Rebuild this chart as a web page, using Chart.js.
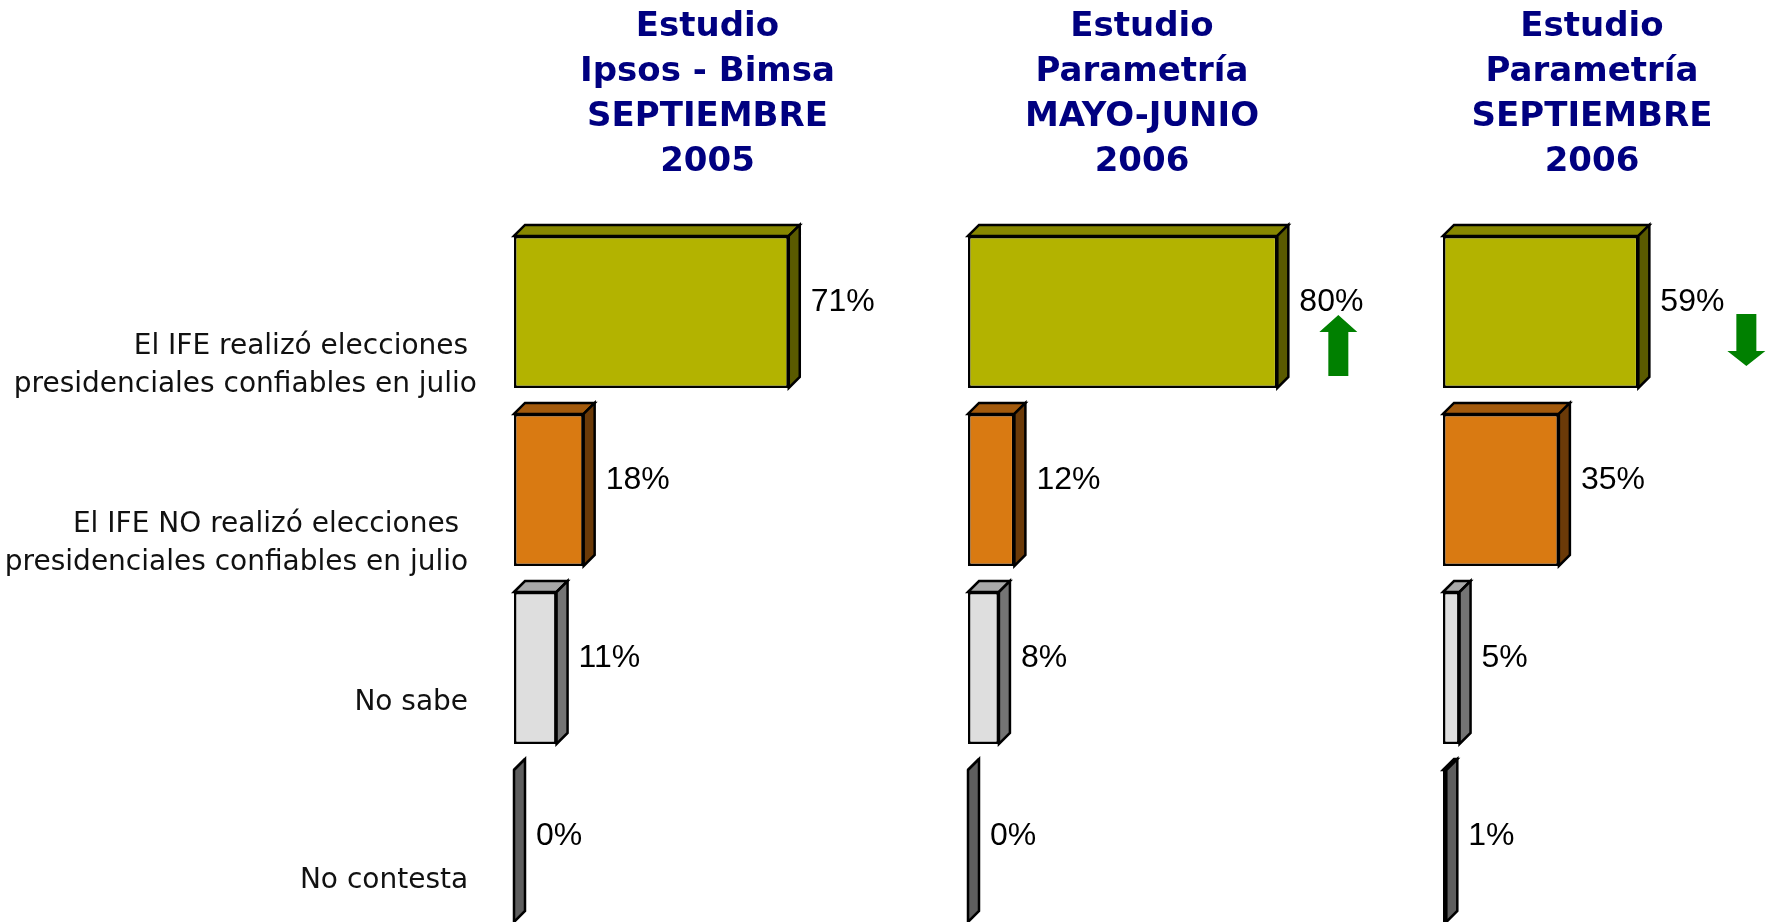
<!DOCTYPE html>
<html>
<head>
<meta charset="utf-8">
<script src="https://cdn.jsdelivr.net/npm/chart.js@4.4.0/dist/chart.umd.min.js"></script>
<style>
  html, body { margin: 0; padding: 0; background: #fff; overflow: hidden; width: 1769px; height: 922px; }
  canvas { position: absolute; left: 0; top: 0; }
</style>
</head>
<body>
<canvas id="panel0" width="1769" height="935"></canvas>
<canvas id="panel1" width="1769" height="935"></canvas>
<canvas id="panel2" width="1769" height="935"></canvas>
<script>
// categorias (espacios finales = sangria del texto original)
var categories = [
    ['El IFE realizó elecciones ', 'presidenciales confiables en julio'],
    ['El IFE NO realizó elecciones  ', 'presidenciales confiables en julio '],
    ['No sabe ', ''],
    ['No contesta ', '']
];

var studyTitles = [
    ['Estudio', 'Ipsos - Bimsa', 'SEPTIEMBRE', '2005'],
    ['Estudio', 'Parametría', 'MAYO-JUNIO', '2006'],
    ['Estudio', 'Parametría', 'SEPTIEMBRE', '2006']
];

var ipsosSep2005 = [71, 18, 11, 0];
var parametriaMayJun2006 = [80, 12, 8, 0];
var parametriaSep2006 = [59, 35, 5, 1];

var trend = [null, 'up', 'down'];   // flecha junto a la primera barra
var xMax = [100, 90, 90];

var series = [ipsosSep2005, parametriaMayJun2006, parametriaSep2006];

// layout de cada panel
var areaLeft = [514, 968, 1443];
var areaWidth = [387, 348, 298];
var arrowDx = [0, 61, 108];

var frontColors = ['#B3B300', '#D97A12', '#DEDEDE', '#606060'];
var topColors   = ['#878700', '#A35A0C', '#A8A8A8', '#4C4C4C'];
var sideColors  = ['#5A5A00', '#6B3A08', '#747474', '#5E5E5E'];
var DEPTH = 11;

// caras 3D, etiquetas de valor y flechas
var bar3d = {
    id: 'bar3d',
    afterDatasetsDraw: function (chart) {
        var ctx = chart.ctx;
        var meta = chart.getDatasetMeta(0);
        var values = chart.data.datasets[0].data;
        var panel = chart.options.plugins.bar3d.panel;
        ctx.save();
        ctx.lineWidth = 2.5;
        ctx.lineJoin = 'miter';
        ctx.strokeStyle = '#000';
        meta.data.forEach(function (el, i) {
            var p = el.getProps(['x', 'y', 'base', 'height'], true);
            var top = p.y - p.height / 2, bottom = p.y + p.height / 2;
            var l = p.base, r = p.x, d = DEPTH;
            // cara superior
            ctx.beginPath();
            ctx.moveTo(l, top);
            ctx.lineTo(l + d, top - d);
            ctx.lineTo(r + d, top - d);
            ctx.lineTo(r, top);
            ctx.closePath();
            ctx.fillStyle = topColors[i];
            ctx.fill();
            ctx.stroke();
            // cara lateral
            ctx.beginPath();
            ctx.moveTo(r, top);
            ctx.lineTo(r + d, top - d);
            ctx.lineTo(r + d, bottom - d);
            ctx.lineTo(r, bottom);
            ctx.closePath();
            ctx.fillStyle = sideColors[i];
            ctx.fill();
            ctx.stroke();
            // etiqueta
            ctx.fillStyle = '#000';
            ctx.font = '32px "Liberation Sans", Arial, sans-serif';
            ctx.textAlign = 'left';
            ctx.textBaseline = 'middle';
            ctx.fillText(values[i] + '%', r + d + 11, p.y - 10);
        });
        // flecha de tendencia
        var t = trend[panel];
        if (t) {
            var p0 = meta.data[0].getProps(['x', 'y'], true);
            var cx = p0.x + arrowDx[panel];
            ctx.fillStyle = '#008000';
            ctx.beginPath();
            if (t === 'up') {
                var y0 = p0.y + 3, y1 = p0.y + 64;
                ctx.moveTo(cx, y0);
                ctx.lineTo(cx + 19, y0 + 17);
                ctx.lineTo(cx + 10, y0 + 17);
                ctx.lineTo(cx + 10, y1);
                ctx.lineTo(cx - 10, y1);
                ctx.lineTo(cx - 10, y0 + 17);
                ctx.lineTo(cx - 19, y0 + 17);
            } else {
                var y2 = p0.y + 2, y3 = p0.y + 54;
                ctx.moveTo(cx - 10, y2);
                ctx.lineTo(cx + 10, y2);
                ctx.lineTo(cx + 10, y3 - 15);
                ctx.lineTo(cx + 19, y3 - 15);
                ctx.lineTo(cx, y3);
                ctx.lineTo(cx - 19, y3 - 15);
                ctx.lineTo(cx - 10, y3 - 15);
            }
            ctx.closePath();
            ctx.fill();
        }
        ctx.restore();
    }
};

series.forEach(function (values, k) {
    var ctx = document.getElementById('panel' + k).getContext('2d');
    new Chart(ctx, {
        type: 'bar',
        data: {
            labels: categories,
            datasets: [{
                data: values,
                backgroundColor: frontColors,
                borderColor: '#000',
                borderWidth: 2.5,
                borderSkipped: false,
                categoryPercentage: 1,
                barPercentage: 0.854
            }]
        },
        options: {
            indexAxis: 'y',
            responsive: false,
            animation: false,
            devicePixelRatio: 1,
            layout: {
                padding: {
                    left: k === 0 ? 0 : areaLeft[k],
                    right: 1769 - areaLeft[k] - areaWidth[k],
                    top: 0,
                    bottom: 0
                }
            },
            scales: {
                x: { display: false, min: 0, max: xMax[k] },
                y: {
                    display: k === 0,
                    grid: { display: false, drawTicks: false },
                    border: { display: false },
                    ticks: {
                        autoSkip: false,
                        padding: 37,
                        labelOffset: 54,
                        color: '#111',
                        font: { family: '"DejaVu Sans", Verdana, sans-serif', size: 28, lineHeight: 1.35 }
                    },
                    afterFit: function (scale) {
                        if (k === 0) {
                            scale.width = areaLeft[0];
                            scale.paddingTop = 0;
                            scale.paddingBottom = 0;
                        }
                    }
                }
            },
            plugins: {
                legend: { display: false },
                tooltip: { enabled: false },
                title: {
                    display: true,
                    fullSize: false,
                    text: studyTitles[k],
                    color: '#000080',
                    font: { family: '"DejaVu Sans", Verdana, sans-serif', size: 34, weight: 'bold', lineHeight: 1.3235 },
                    padding: { top: 5, bottom: 38 }
                },
                bar3d: { panel: k }
            }
        },
        plugins: [bar3d]
    });
});
</script>
</body>
</html>
